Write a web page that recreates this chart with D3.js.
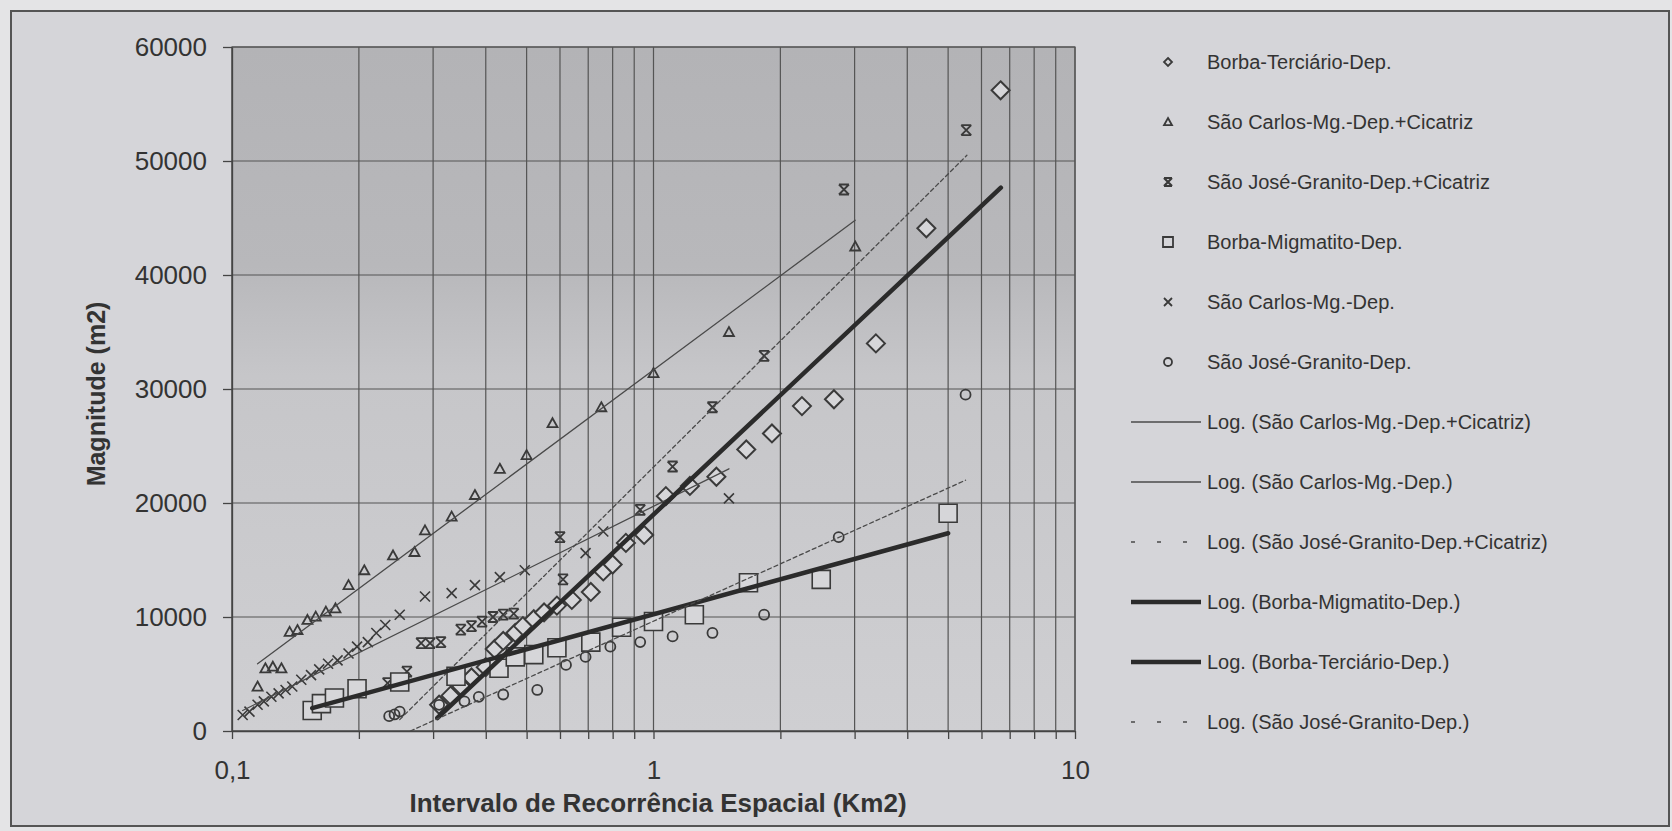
<!DOCTYPE html>
<html>
<head>
<meta charset="utf-8">
<script src="https://cdn.jsdelivr.net/npm/d3@7"></script>
<style>
  body { margin: 0; background: #e4e4e6; }
  svg { display: block; font-family: "Liberation Sans", Arial, sans-serif; }
</style>
</head>
<body>
<div id="container"></div>
<script>

      //Series values: [interval (Km2), magnitude (m2)]
      var borbaTerciario = [[0.31,2300],[0.33,3100],[0.35,3900],[0.37,4700],[0.40,5600],[0.42,7200],[0.44,7900],
        [0.47,8600],[0.49,9200],[0.52,9800],[0.55,10400],[0.59,11000],[0.64,11500],[0.71,12200],[0.76,14000],
        [0.80,14600],[0.86,16500],[0.95,17200],[1.07,20600],[1.22,21500],[1.41,22300],[1.66,24700],[1.91,26100],
        [2.25,28500],[2.68,29100],[3.37,34000],[4.44,44100],[6.66,56200]];
      var saoCarlosCicatriz = [[0.115,3900],[0.12,5500],[0.125,5640],[0.131,5500],[0.137,8700],[0.143,8860],
        [0.151,9740],[0.158,10030],[0.167,10470],[0.176,10760],[0.189,12800],[0.206,14100],[0.241,15400],
        [0.271,15700],[0.287,17600],[0.332,18800],[0.377,20700],[0.432,23000],[0.50,24200],[0.576,27000],
        [0.752,28400],[1.0,31400],[1.51,35000],[3.01,42500]];
      var saoJoseCicatriz = [[0.234,4200],[0.26,5200],[0.281,7700],[0.295,7700],[0.313,7800],[0.349,8900],
        [0.37,9200],[0.392,9600],[0.416,10000],[0.44,10200],[0.466,10300],[0.61,13300],[0.60,17000],[0.93,19400],
        [1.11,23200],[1.38,28400],[1.83,32900],[2.83,47500],[5.52,52700]];
      var borbaMigmatito = [[0.155,1800],[0.163,2400],[0.175,2900],[0.198,3700],[0.25,4300],[0.34,4800],
        [0.43,5500],[0.47,6500],[0.52,6700],[0.59,7300],[0.71,7800],[0.84,9100],[1.0,9600],[1.25,10200],
        [1.68,13000],[2.5,13300],[5.0,19100]];
      var saoCarlos = [[0.106,1400],[0.110,1700],[0.115,2300],[0.119,2600],[0.124,3000],[0.129,3300],[0.134,3600],
        [0.139,3900],[0.146,4500],[0.154,4900],[0.161,5400],[0.169,5900],[0.178,6200],[0.189,6800],[0.198,7400],
        [0.210,7800],[0.220,8600],[0.231,9300],[0.250,10200],[0.287,11800],[0.332,12100],[0.377,12800],
        [0.432,13500],[0.495,14100],[0.69,15600],[0.76,17500],[1.51,20400]];
      var saoJose = [[0.236,1300],[0.243,1450],[0.25,1700],[0.31,2300],[0.356,2600],[0.385,3000],[0.44,3200],
        [0.53,3600],[0.62,5800],[0.69,6500],[0.79,7400],[0.93,7800],[1.11,8300],[1.38,8600],[1.83,10200],
        [2.75,17000],[5.5,29500]];

      //Log trend lines, end points
      var trendSaoCarlosCicatriz = [[0.115,5900],[3.01,44800]];
      var trendSaoCarlos = [[0.106,1800],[1.51,23000]];
      var trendSaoJoseCicatriz = [[0.25,1000],[5.54,50500]];
      var trendBorbaMigmatito = [[0.155,2000],[5.0,17350]];
      var trendBorbaTerciario = [[0.307,1140],[6.67,47660]];
      var trendSaoJose = [[0.265,0],[5.5,22000]];

      //Ticks and labels
      var yTicks = [0, 10000, 20000, 30000, 40000, 50000, 60000];
      var xLabels = {"0.1": "0,1", "1": "1", "10": "10"};

      var legendNames = ["Borba-Terciário-Dep.", "São Carlos-Mg.-Dep.+Cicatriz", "São José-Granito-Dep.+Cicatriz",
        "Borba-Migmatito-Dep.", "São Carlos-Mg.-Dep.", "São José-Granito-Dep.",
        "Log. (São Carlos-Mg.-Dep.+Cicatriz)", "Log. (São Carlos-Mg.-Dep.)", "Log. (São José-Granito-Dep.+Cicatriz)",
        "Log. (Borba-Migmatito-Dep.)", "Log. (Borba-Terciário-Dep.)", "Log. (São José-Granito-Dep.)"];

      //Width and height
      var w = 1672;
      var h = 831;
      var plot = { left: 232, right: 1075, top: 47, bottom: 731 };
      var ink = "#3a3a3a";

      var x = d3.scaleLog().domain([0.1, 10]).range([plot.left, plot.right]);
      var y = d3.scaleLinear().domain([0, 60000]).range([plot.bottom, plot.top]);

      var svg = d3.select("#container")
            .append("svg")
            .attr("width", w)
            .attr("height", h);

      var defs = svg.append("defs");
      var grad = defs.append("linearGradient").attr("id", "plotbg")
            .attr("x1", 0).attr("y1", 0).attr("x2", 0).attr("y2", 1);
      grad.append("stop").attr("offset", "0%").attr("stop-color", "#b3b3b6");
      grad.append("stop").attr("offset", "32%").attr("stop-color", "#b8b8bb");
      grad.append("stop").attr("offset", "48%").attr("stop-color", "#c6c6c9");
      grad.append("stop").attr("offset", "100%").attr("stop-color", "#cfcfd2");
      defs.append("clipPath").attr("id", "clip").append("rect")
            .attr("x", plot.left).attr("y", plot.top)
            .attr("width", plot.right - plot.left).attr("height", plot.bottom - plot.top);

      //Frame of the chart
      svg.append("rect")
        .attr("x", 11).attr("y", 11).attr("width", 1658).attr("height", 815)
        .attr("fill", "#d5d5d9").attr("stroke", "#555").attr("stroke-width", 2);

      svg.append("rect")
        .attr("x", plot.left).attr("y", plot.top)
        .attr("width", plot.right - plot.left).attr("height", plot.bottom - plot.top)
        .attr("fill", "url(#plotbg)");

      //Grid
      svg.append("g").selectAll("line")
        .data(x.ticks())
        .enter().append("line")
        .attr("x1", function(d) { return x(d); }).attr("x2", function(d) { return x(d); })
        .attr("y1", plot.top).attr("y2", plot.bottom)
        .attr("stroke", "#555").attr("stroke-width", 1.2);
      svg.append("g").selectAll("line")
        .data(yTicks)
        .enter().append("line")
        .attr("x1", plot.left).attr("x2", plot.right)
        .attr("y1", function(d) { return y(d); }).attr("y2", function(d) { return y(d); })
        .attr("stroke", "#555").attr("stroke-width", 1.2);
      svg.append("rect")
        .attr("x", plot.left).attr("y", plot.top)
        .attr("width", plot.right - plot.left).attr("height", plot.bottom - plot.top)
        .attr("fill", "none").attr("stroke", "#555").attr("stroke-width", 1.2);

      //Axes
      var xAxis = svg.append("g")
        .attr("transform", "translate(0," + plot.bottom + ")")
        .call(d3.axisBottom(x).tickSize(8).tickSizeOuter(0)
          .tickFormat(function(d) { return xLabels[String(d)] || ""; }));
      xAxis.selectAll(".tick text").attr("y", 30).attr("font-size", 26).attr("fill", "#333");

      var yAxis = svg.append("g")
        .attr("transform", "translate(" + plot.left + ",0)")
        .call(d3.axisLeft(y).tickValues(yTicks).tickSize(9).tickSizeOuter(0).tickPadding(16)
          .tickFormat(d3.format("d")));
      yAxis.selectAll(".tick text").attr("font-size", 26).attr("fill", "#333");
      svg.selectAll(".domain, .tick line").attr("stroke", "#444").attr("stroke-width", 1.3);

      svg.append("text")
        .attr("transform", "translate(105,394) rotate(-90)")
        .attr("text-anchor", "middle")
        .attr("font-size", 25).attr("font-weight", "bold").attr("fill", "#333")
        .text("Magnitude (m2)");
      svg.append("text")
        .attr("x", 658).attr("y", 812)
        .attr("text-anchor", "middle")
        .attr("font-size", 26).attr("font-weight", "bold").attr("fill", "#333")
        .text("Intervalo de Recorrência Espacial (Km2)");

      //Marker shapes
      function marker(type, s) {
        if (type == "diamond") return "M0," + (-s) + "L" + s + ",0L0," + s + "L" + (-s) + ",0Z";
        if (type == "square") return "M" + (-s) + "," + (-s) + "H" + s + "V" + s + "H" + (-s) + "Z";
        if (type == "triangle") return "M0," + (-s) + "L" + s + "," + (s * 0.8) + "L" + (-s) + "," + (s * 0.8) + "Z";
        if (type == "circle") return d3.symbol().type(d3.symbolCircle).size(Math.PI * s * s)();
        if (type == "x") return "M" + (-s) + "," + (-s) + "L" + s + "," + s + "M" + s + "," + (-s) + "L" + (-s) + "," + s;
        if (type == "star") return "M" + (-s) + "," + (-s) + "L" + s + "," + s + "M" + s + "," + (-s) + "L" + (-s) + "," + s +
          "M" + (-s) + "," + (-s) + "H" + s + "M" + (-s) + "," + s + "H" + s;
      }

      var series = [
        { data: borbaTerciario, type: "diamond", size: 9, width: 2, fill: "#d6d6d9" },
        { data: saoCarlosCicatriz, type: "triangle", size: 5, width: 1.8, fill: "none" },
        { data: saoJoseCicatriz, type: "star", size: 5, width: 1.8, fill: "none" },
        { data: borbaMigmatito, type: "square", size: 9, width: 1.6, fill: "#d6d6d9" },
        { data: saoCarlos, type: "x", size: 5, width: 1.6, fill: "none" },
        { data: saoJose, type: "circle", size: 5, width: 1.8, fill: "none" }
      ];

      var marks = svg.append("g").attr("clip-path", "url(#clip)");
      series.forEach(function(s) {
        marks.append("g").selectAll("path")
          .data(s.data)
          .enter().append("path")
          .attr("transform", function(d) { return "translate(" + x(d[0]) + "," + y(d[1]) + ")"; })
          .attr("d", marker(s.type, s.size))
          .attr("fill", s.fill)
          .attr("stroke", ink)
          .attr("stroke-width", s.width);
      });

      var trends = [
        { data: trendSaoCarlosCicatriz, width: 1.3, dash: null },
        { data: trendSaoCarlos, width: 1.3, dash: null },
        { data: trendSaoJoseCicatriz, width: 1.3, dash: "4,3" },
        { data: trendBorbaMigmatito, width: 4.5, dash: null },
        { data: trendBorbaTerciario, width: 4.5, dash: null },
        { data: trendSaoJose, width: 1.3, dash: "4,3" }
      ];
      var line = d3.line()
        .x(function(d) { return x(d[0]); })
        .y(function(d) { return y(d[1]); });
      trends.forEach(function(t) {
        marks.append("path")
          .attr("d", line(t.data))
          .attr("fill", "none")
          .attr("stroke", t.width > 2 ? "#2b2b2b" : "#4a4a4a")
          .attr("stroke-width", t.width)
          .attr("stroke-dasharray", t.dash)
          .attr("stroke-linecap", "round");
      });

      //Legend
      var rowY = d3.scaleLinear().domain([0, 11]).range([62, 722]);
      var legend = svg.append("g");
      legendNames.forEach(function(name, i) {
        var yy = rowY(i);
        if (i < 6) {
          var s = series[i];
          legend.append("path")
            .attr("transform", "translate(1168," + yy + ")")
            .attr("d", marker(s.type, s.type == "square" ? 5 : 4))
            .attr("fill", "none")
            .attr("stroke", ink)
            .attr("stroke-width", s.type == "star" ? 2.2 : 1.8);
        } else {
          var t = trends[i - 6];
          legend.append("line")
            .attr("x1", 1131).attr("x2", 1201).attr("y1", yy).attr("y2", yy)
            .attr("stroke", t.width > 2 ? "#2b2b2b" : "#4a4a4a")
            .attr("stroke-width", t.width)
            .attr("stroke-dasharray", t.dash ? "4,22" : null);
        }
        legend.append("text")
          .attr("x", 1207).attr("y", yy + 7)
          .attr("font-size", 20).attr("fill", "#333")
          .text(name);
      });

</script>
</body>
</html>
